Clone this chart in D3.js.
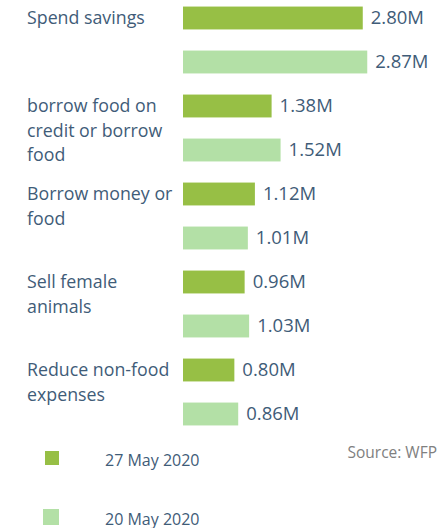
<!doctype html>
<html lang="en">
<head>
  <meta charset="utf-8">
  <title>Coping strategies</title>
  <script src="https://d3js.org/d3.v7.min.js"></script>
  <style>
    body { margin: 0; background: #fff; }
    text { font-family: "Open Sans", sans-serif; }
  </style>
</head>
<body>
<script>
// data
var labelLines = [
  ["Spend savings"],
  ["borrow food on", "credit or borrow", "food"],
  ["Borrow money or", "food"],
  ["Sell female", "animals"],
  ["Reduce non-food", "expenses"]
];
var seriesNames = ["27 May 2020", "20 May 2020"];
var may27 = [2.80, 1.38, 1.12, 0.96, 0.80];
var may20 = [2.87, 1.52, 1.01, 1.03, 0.86];
var colors = ["#97bf45", "#b3e0a6"];

var width = 442, height = 528;
var textColor = "#3f5c78";

var svg = d3.select("body").append("svg")
  .attr("width", width)
  .attr("height", height);

var cats = d3.range(labelLines.length);

var x = d3.scaleLinear().domain([0, 2.87]).range([183, 183 + 2.87 * 64.2]);

var y0 = d3.scaleBand().domain(cats).range([-4, -4 + 88 * cats.length]);
var y1 = d3.scaleBand().domain([0, 1]).range([0, y0.bandwidth()])
  .paddingInner(0.48).paddingOuter(0.24);

var rows = [];
cats.forEach(function(i) {
  rows.push({ cat: i, s: 0, v: may27[i] });
  rows.push({ cat: i, s: 1, v: may20[i] });
});

svg.selectAll("rect.bar")
  .data(rows)
  .enter().append("rect")
  .attr("class", "bar")
  .attr("x", x(0))
  .attr("y", d => y0(d.cat) + y1(d.s))
  .attr("width", d => x(d.v) - x(0))
  .attr("height", y1.bandwidth())
  .attr("fill", d => colors[d.s]);

svg.selectAll("text.val")
  .data(rows)
  .enter().append("text")
  .attr("class", "val")
  .attr("x", d => x(d.v) + 8)
  .attr("y", d => y0(d.cat) + y1(d.s) + y1.bandwidth() / 2)
  .attr("dy", "0.35em")
  .attr("font-size", 18.5)
  .attr("fill", textColor)
  .text(d => d.v.toFixed(2) + "M");

// category labels, first line centred on the first bar of each group
var lab = svg.selectAll("text.cat")
  .data(cats)
  .enter().append("text")
  .attr("class", "cat")
  .attr("x", 27)
  .attr("y", d => y0(d) + y1(0) + y1.bandwidth() / 2)
  .attr("font-size", 17.8)
  .attr("fill", textColor);

lab.selectAll("tspan")
  .data(d => labelLines[d])
  .enter().append("tspan")
  .attr("x", 27)
  .attr("dy", (d, i) => i === 0 ? "0.35em" : 24.5)
  .text(d => d);

// legend
var legend = svg.selectAll("g.leg")
  .data(seriesNames)
  .enter().append("g")
  .attr("class", "leg")
  .attr("transform", (d, i) => "translate(0," + (458 + i * 59) + ")");

legend.append("rect")
  .attr("x", (d, i) => i === 0 ? 45 : 43)
  .attr("y", (d, i) => i === 0 ? -7 : -8)
  .attr("width", (d, i) => i === 0 ? 14 : 16)
  .attr("height", (d, i) => i === 0 ? 14 : 16)
  .attr("fill", (d, i) => colors[i]);

legend.append("text")
  .attr("x", 105)
  .attr("y", 2)
  .attr("dy", "0.35em")
  .attr("font-size", 16)
  .attr("fill", textColor)
  .text(d => d);

svg.append("text")
  .attr("x", 437)
  .attr("y", 453)
  .attr("dy", "0.35em")
  .attr("text-anchor", "end")
  .attr("font-size", 15.5)
  .attr("fill", "#808080")
  .text("Source: WFP");
</script>
</body>
</html>
